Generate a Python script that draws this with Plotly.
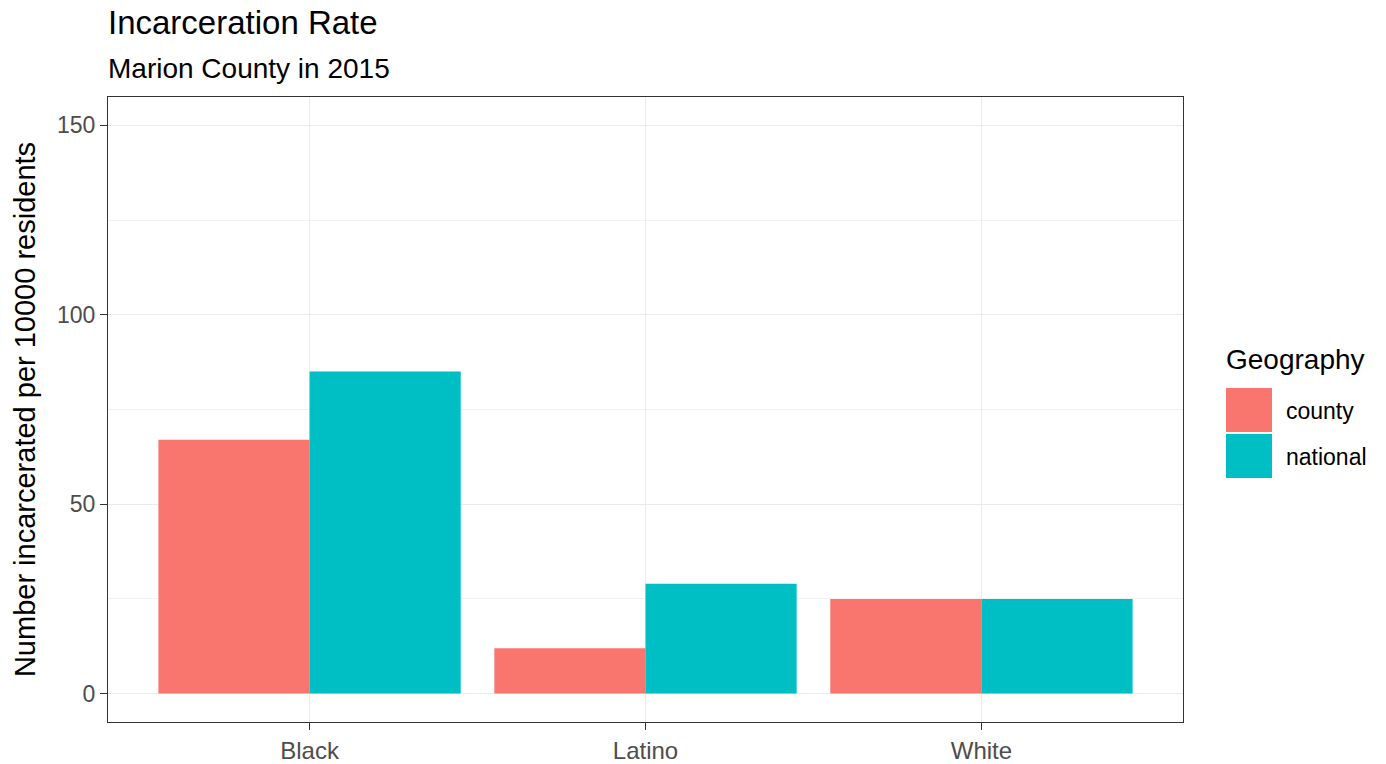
import plotly.graph_objects as go

categories = ["Black", "Latino", "White"]
county = [67, 12, 25]
national = [85, 29, 25]
series_names = ["county", "national"]
colors = ["#F8766D", "#00BFC4"]
y_ticks = [0, 50, 100, 150]

W, H = 1386, 764
L, R, T, B = 108, 1183, 97, 722  # pixel positions of the plot panel

def px(x):
    return (x - L) / (R - L)

def py(y):
    return (B - y) / (B - T)

fig = go.Figure()
for name, vals, col in zip(series_names, [county, national], colors):
    fig.add_trace(go.Bar(x=categories, y=vals, name=name, marker=dict(color=col, line=dict(width=0)),
                         showlegend=False))

font = "Liberation Sans, Arial, sans-serif"
fig.update_layout(
    width=W, height=H,
    margin=dict(l=L, r=W - R, t=T, b=H - B, autoexpand=False),
    paper_bgcolor="white", plot_bgcolor="white",
    barmode="group", bargap=0.1, bargroupgap=0,
    font=dict(family=font, color="#000000"),
    xaxis=dict(range=[-0.6, 2.6], showgrid=True, gridcolor="#EBEBEB", gridwidth=1.3,
               ticks="outside", ticklen=7, tickcolor="#333333", tickwidth=1.3,
               tickfont=dict(size=24, color="#4D4D4D"),
               showline=True, linecolor="#333333", linewidth=1.3, mirror=True, zeroline=False),
    yaxis=dict(range=[-7.5, 157.5], tickvals=y_ticks, showgrid=True, gridcolor="#EBEBEB", gridwidth=1.3,
               minor=dict(tickvals=[25, 75, 125], showgrid=True, gridcolor="#F2F2F2", gridwidth=0.8, ticks=""),
               ticks="outside", ticklen=7, tickcolor="#333333", tickwidth=1.3,
               tickfont=dict(size=23, color="#4D4D4D"),
               title=dict(text="Number incarcerated per 10000 residents", font=dict(size=29, color="#000000"), standoff=12),
               showline=True, linecolor="#333333", linewidth=1.3, mirror=True, zeroline=False),
)

# Titles
fig.add_annotation(text="Incarceration Rate", xref="paper", yref="paper", x=px(106), y=py(23),
                   xanchor="left", yanchor="middle", showarrow=False, font=dict(size=33, color="#000000"))
fig.add_annotation(text="Marion County in 2015", xref="paper", yref="paper", x=px(106), y=py(68),
                   xanchor="left", yanchor="middle", showarrow=False, font=dict(size=28, color="#000000"))

# Legend
fig.add_annotation(text="Geography", xref="paper", yref="paper", x=px(1224), y=py(360),
                   xanchor="left", yanchor="middle", showarrow=False, font=dict(size=28, color="#000000"))
key_top = [388, 434]
for name, col, kt in zip(series_names, colors, key_top):
    fig.add_shape(type="rect", xref="paper", yref="paper", x0=px(1226), x1=px(1272),
                  y0=py(kt + 44), y1=py(kt), fillcolor=col, line=dict(width=0), layer="above")
    fig.add_annotation(text=name, xref="paper", yref="paper", x=px(1284), y=py(kt + 23),
                       xanchor="left", yanchor="middle", showarrow=False, font=dict(size=23, color="#000000"))

fig.write_html("out.html", config={"displayModeBar": False},
               post_script="document.body.style.margin='0';document.body.style.overflow='hidden';")
